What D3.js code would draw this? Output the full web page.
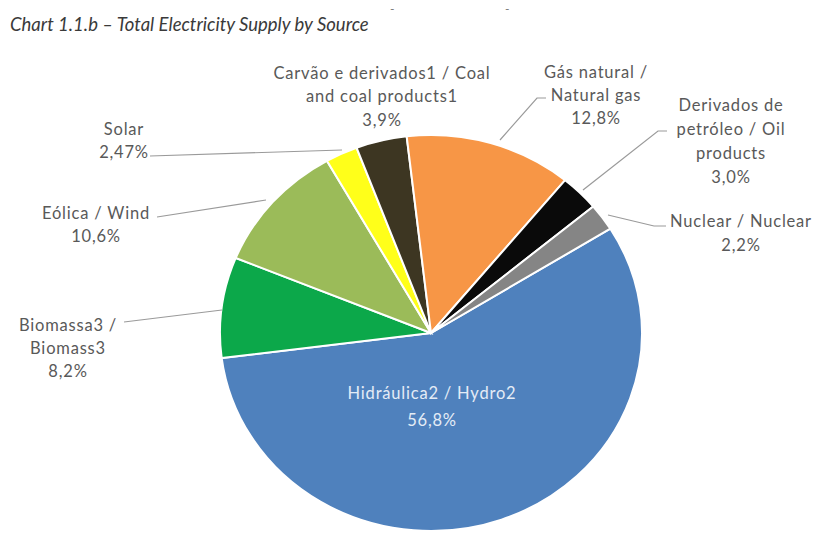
<!DOCTYPE html>
<html>
<head>
<meta charset="utf-8">
<script src="https://cdn.jsdelivr.net/npm/d3@7"></script>
<style>
  body { margin: 0; background: #fff; }
  svg { display: block; }
</style>
</head>
<body>
<svg id="chart" width="818" height="534"></svg>
<script>
// slices in clockwise order, starting from the Hydro slice
var sources = ["Hidráulica2 / Hydro2", "Biomassa3 / Biomass3", "Eólica / Wind", "Solar",
               "Carvão e derivados1 / Coal and coal products1", "Gás natural / Natural gas",
               "Derivados de petróleo / Oil products", "Nuclear / Nuclear"];
var shares = [56.8, 8.2, 10.6, 2.47, 3.9, 12.8, 3.0, 2.2];
var shareLabels = ["56,8%", "8,2%", "10,6%", "2,47%", "3,9%", "12,8%", "3,0%", "2,2%"];
var colors = ["#4f81bd", "#0ca84a", "#9bbb59", "#ffff1a", "#3d3622", "#f79646", "#0a0a0a", "#858585"];

// label text lines as they break in the picture
var labelLines = [
  ["Hidráulica2 / Hydro2", "56,8%"],
  ["Biomassa3 /", "Biomass3", "8,2%"],
  ["Eólica / Wind", "10,6%"],
  ["Solar", "2,47%"],
  ["Carvão e derivados1 / Coal", "and coal products1", "3,9%"],
  ["Gás natural /", "Natural gas", "12,8%"],
  ["Derivados de", "petróleo / Oil", "products", "3,0%"],
  ["Nuclear / Nuclear", "2,2%"]
];

// layout of labels and leader lines (pixel positions, not data)
var labelPos = [
  {x: 432, y: 393, lh: 27, fill: "#e4ecf6"},
  {x: 68, y: 325, lh: 23},
  {x: 96, y: 213, lh: 23},
  {x: 124, y: 129, lh: 23},
  {x: 382, y: 73, lh: 23.5},
  {x: 596, y: 72, lh: 23},
  {x: 731, y: 105, lh: 24},
  {x: 741, y: 221, lh: 24}
];
var leaders = [
  null,
  [[124, 322], [222, 310]],
  [[157, 217], [266, 200]],
  [[150, 156], [342, 150]],
  null,
  [[546, 98], [537, 98], [500, 140]],
  [[667, 131], [658, 131], [583, 190]],
  [[666, 226], [654, 226], [608, 215]]
];

var svg = d3.select("#chart");
var font = "Lato, 'Open Sans', sans-serif";

svg.append("text")
  .attr("x", 10).attr("y", 31)
  .attr("font-family", font)
  .attr("font-style", "italic")
  .attr("font-size", 18.5)
  .attr("fill", "#3a3a3a")
  .text("Chart 1.1.b – Total Electricity Supply by Source");

// faint remnants of a cut-off line at the top
svg.append("text").attr("x", 390).attr("y", 13).attr("font-family", font)
  .attr("font-size", 12).attr("fill", "#777").text("-");
svg.append("text").attr("x", 505).attr("y", 13).attr("font-family", font)
  .attr("font-size", 12).attr("fill", "#777").text("-");

var cx = 431, cy = 333, rx = 211, ry = 198;
var start = 58.2 * Math.PI / 180;

var pie = d3.pie().sort(null)
  .startAngle(start).endAngle(start + 2 * Math.PI);
var arc = d3.arc().innerRadius(0).outerRadius(ry);

var arcs = pie(shares);

var g = svg.append("g")
  .attr("transform", "translate(" + cx + "," + cy + ") scale(" + (rx / ry) + ",1)");

g.selectAll("path")
  .data(arcs)
  .enter().append("path")
  .attr("d", arc)
  .attr("fill", function(d, i) { return colors[i]; })
  .attr("stroke", "#fff")
  .attr("stroke-width", 2)
  .attr("vector-effect", "non-scaling-stroke");

var line = d3.line();
svg.selectAll("path.leader")
  .data(leaders.filter(function(d) { return d; }))
  .enter().append("path")
  .attr("class", "leader")
  .attr("d", line)
  .attr("fill", "none")
  .attr("stroke", "#9a9a9a")
  .attr("stroke-width", 1.2);

var labels = svg.selectAll("g.label")
  .data(labelLines)
  .enter().append("g")
  .attr("class", "label");

labels.each(function(lines, i) {
  var p = labelPos[i];
  var t = d3.select(this).append("text")
    .attr("text-anchor", "middle")
    .attr("font-family", font)
    .attr("font-size", 16.5)
    .attr("letter-spacing", 0.8)
    .attr("fill", p.fill || "#595959");
  lines.forEach(function(s, k) {
    t.append("tspan")
      .attr("x", p.x)
      .attr("y", p.y + k * p.lh)
      .attr("dy", "0.35em")
      .text(s);
  });
});
</script>
</body>
</html>
